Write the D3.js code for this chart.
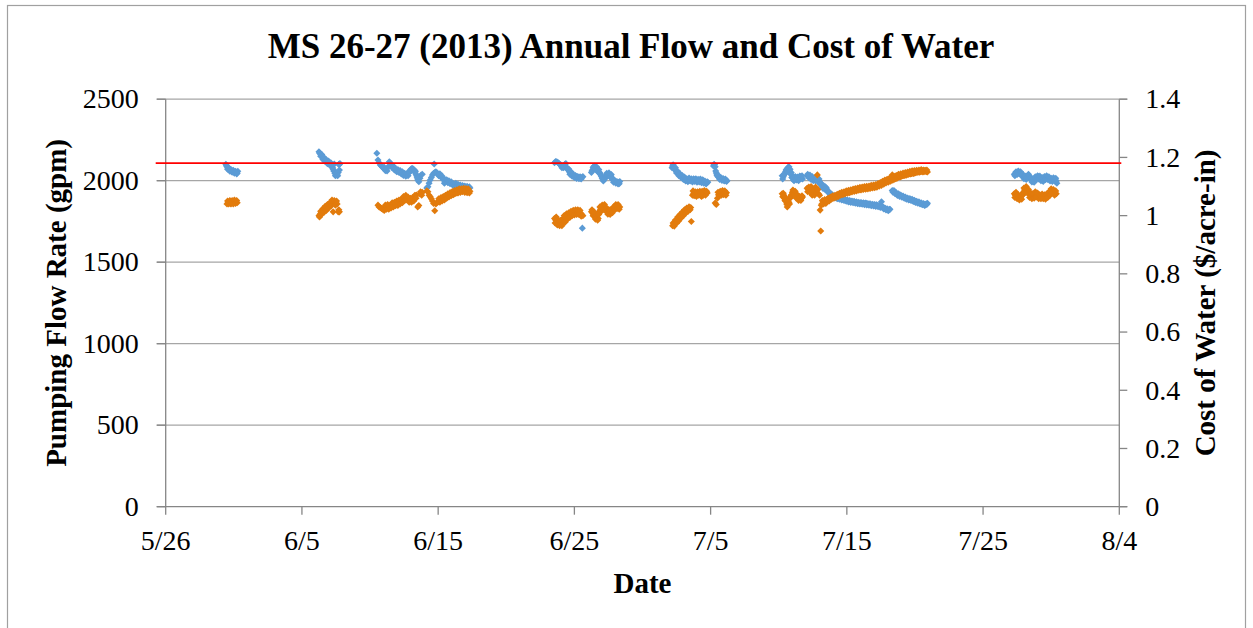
<!DOCTYPE html>
<html>
<head>
<meta charset="utf-8">
<script src="https://cdn.jsdelivr.net/npm/d3@7"></script>
<style>
  html, body { margin: 0; padding: 0; background: #fff; }
  svg { display: block; font-family: "Liberation Serif", "Times New Roman", serif; }
</style>
</head>
<body>
<svg id="chart" width="1253" height="628"></svg>
<script>
// Chart text
const chartTitle = 'MS 26-27 (2013) Annual Flow and Cost of Water';
const xTitle = 'Date';
const yLeftTitle = 'Pumping Flow Rate (gpm)';
const yRightTitle = 'Cost of Water ($/acre-in)';

// Axes
const dateStart = '5/26 00';
const dateEnd = '8/4 00';
const xTickLabels = ['5/26', '6/5', '6/15', '6/25', '7/5', '7/15', '7/25', '8/4'];
const flowTicks = [0, 500, 1000, 1500, 2000, 2500];
const costTicks = [0, 0.2, 0.4, 0.6, 0.8, 1, 1.2, 1.4];
const designFlow = 2108; // red reference line (gpm)

// Pumping flow rate (gpm)
const flowRate = [
  ['5/30 10',2101],['5/30 12',2085],['5/30 14',2075],['5/30 16',2066],['5/30 18',2062],['5/30 20',2058],
  ['5/30 22',2060],['5/31 00',2055],['5/31 02',2050],['5/31 04',2052],['5/31 06',2046],['5/31 07',2058],
  ['5/30 11',2092],['5/30 13',2070],['5/30 15',2080],['5/30 17',2058],['5/30 19',2068],['5/30 21',2052],
  ['5/30 23',2064],['5/31 01',2046],['5/31 03',2058],['5/31 05',2042],

  ['6/6 06',2178],['6/6 08',2165],['6/6 10',2155],['6/6 12',2145],['6/6 14',2138],['6/6 16',2130],
  ['6/6 18',2122],['6/6 20',2115],['6/6 22',2112],['6/7 00',2108],['6/7 02',2100],['6/7 04',2098],
  ['6/7 06',2080],['6/7 08',2060],['6/7 10',2045],['6/7 12',2035],['6/7 14',2040],['6/7 16',2050],
  ['6/7 18',2065],['6/7 19',2105],['6/7 17',2100],['6/7 09',2102],
  ['6/6 07',2170],['6/6 09',2150],['6/6 11',2160],['6/6 13',2130],['6/6 15',2142],['6/6 17',2118],
  ['6/6 19',2128],['6/6 21',2104],['6/6 23',2120],['6/7 01',2095],['6/7 03',2110],['6/7 05',2088],
  ['6/7 07',2070],['6/7 11',2030],['6/7 13',2048],['6/7 15',2030],['6/7 18',2100],

  ['6/10 12',2168],['6/10 14',2127],['6/10 16',2110],['6/10 18',2096],['6/10 20',2090],['6/10 22',2082],
  ['6/11 00',2075],['6/11 02',2070],['6/11 04',2066],['6/11 06',2060],['6/11 08',2085],['6/11 10',2116],
  ['6/11 12',2105],['6/11 14',2092],['6/11 16',2086],['6/11 18',2078],['6/11 20',2070],['6/11 22',2065],
  ['6/12 00',2060],['6/12 02',2058],['6/12 04',2055],['6/12 06',2050],['6/12 08',2046],['6/12 10',2042],
  ['6/12 12',2040],['6/12 14',2036],['6/12 16',2035],['6/12 18',2040],['6/12 20',2050],['6/12 22',2062],
  ['6/13 00',2070],['6/13 02',2076],['6/13 04',2072],['6/13 06',2065],['6/13 08',2058],['6/13 10',2030],
  ['6/13 12',2005],['6/13 14',1994],['6/13 16',2015],['6/13 18',2035],['6/13 20',2040],
  ['6/11 01',2082],['6/11 03',2062],['6/11 05',2072],['6/11 13',2098],['6/11 15',2080],['6/11 17',2090],
  ['6/11 19',2066],['6/11 21',2074],['6/11 23',2055],['6/12 01',2068],['6/12 03',2050],['6/12 05',2062],
  ['6/12 07',2042],['6/12 09',2055],['6/12 11',2032],['6/12 13',2046],['6/12 15',2028],['6/12 17',2042],
  ['6/12 19',2030],['6/12 21',2055],['6/13 01',2062],['6/13 03',2068],['6/13 05',2060],['6/13 07',2052],
  ['6/13 09',2040],['6/13 11',2018],

  ['6/14 04',1955],['6/14 06',1963],['6/14 08',1985],['6/14 10',2004],['6/14 12',2020],['6/14 14',2035],
  ['6/14 17',2102],['6/14 16',2045],['6/14 18',2050],['6/14 20',2055],['6/14 22',2048],['6/15 00',2040],
  ['6/15 02',2035],['6/15 04',2030],['6/15 06',2022],['6/15 08',2015],['6/15 10',2010],['6/15 11',1985],
  ['6/15 12',2005],['6/15 14',2000],['6/15 16',1998],['6/15 18',1994],['6/15 20',1990],['6/15 22',1988],
  ['6/16 00',1985],['6/16 02',1982],['6/16 03',1970],['6/16 04',1980],['6/16 06',1978],['6/16 08',1975],
  ['6/16 10',1972],['6/16 12',1970],['6/16 13',1958],['6/16 14',1968],['6/16 16',1966],['6/16 18',1965],
  ['6/16 20',1963],['6/16 22',1962],['6/17 00',1960],['6/17 02',1958],['6/17 04',1960],['6/17 06',1957],
  ['6/17 08',1955],
  ['6/15 01',2030],['6/15 03',2042],['6/15 05',2022],['6/15 07',2028],['6/15 09',2006],['6/15 13',1992],
  ['6/15 15',2006],['6/15 17',1988],['6/15 19',2000],['6/15 21',1982],['6/15 23',1994],['6/16 01',1976],
  ['6/16 05',1972],['6/16 07',1984],['6/16 09',1966],['6/16 11',1978],['6/16 15',1974],['6/16 17',1958],
  ['6/16 19',1970],['6/16 21',1955],['6/16 23',1968],['6/17 01',1952],['6/17 03',1965],['6/17 05',1950],
  ['6/17 07',1962],

  ['6/23 13',2110],['6/23 15',2118],['6/23 17',2116],['6/23 19',2112],['6/23 21',2105],['6/23 23',2098],
  ['6/24 01',2090],['6/24 03',2085],['6/24 05',2080],['6/24 07',2100],['6/24 09',2105],['6/24 11',2080],
  ['6/24 13',2065],['6/24 15',2055],['6/24 17',2048],['6/24 19',2040],['6/24 21',2035],['6/24 23',2030],
  ['6/25 01',2028],['6/25 03',2025],['6/25 05',2022],['6/25 07',2020],['6/25 09',2018],['6/25 11',2016],
  ['6/25 13',2020],['6/25 15',2025],['6/25 14',1709],
  ['6/24 00',2098],['6/24 02',2080],['6/24 04',2092],['6/24 12',2070],['6/24 14',2072],['6/24 16',2040],
  ['6/24 18',2055],['6/24 20',2028],['6/24 22',2040],['6/25 00',2020],['6/25 02',2032],['6/25 04',2014],
  ['6/25 06',2026],['6/25 08',2012],['6/25 10',2024],['6/25 12',2010],
  ['6/26 06',2050],['6/26 08',2065],['6/26 10',2075],['6/26 12',2082],['6/26 14',2078],['6/26 16',2070],
  ['6/26 18',2060],['6/26 20',2052],['6/26 22',2040],['6/27 00',2025],['6/27 02',2010],['6/27 04',2004],
  ['6/27 06',2015],['6/27 08',2025],['6/27 10',2035],['6/27 12',2040],['6/27 14',2035],['6/27 16',2030],
  ['6/27 18',2020],['6/27 20',2005],['6/27 22',1998],['6/28 00',1994],['6/28 02',1990],['6/28 04',1986],
  ['6/28 06',1990],['6/28 08',1995],
  ['6/26 07',2060],['6/26 09',2082],['6/26 11',2090],['6/26 13',2070],['6/26 15',2085],['6/26 17',2055],
  ['6/26 19',2068],['6/26 21',2045],['6/26 23',2030],['6/27 01',2015],['6/27 03',1998],['6/27 05',2010],
  ['6/27 07',2030],['6/27 09',2045],['6/27 11',2030],['6/27 13',2048],['6/27 15',2022],['6/27 17',2038],
  ['6/27 19',2010],['6/27 21',1990],['6/27 23',2002],['6/28 01',1984],['6/28 03',1995],['6/28 05',1980],
  ['6/28 07',1982],

  ['7/2 04',2080],['7/2 05',2090],['7/2 07',2085],['7/2 09',2070],['7/2 11',2060],['7/2 13',2050],
  ['7/2 15',2042],['7/2 17',2035],['7/2 19',2030],['7/2 21',2025],['7/2 23',2020],['7/3 01',2015],
  ['7/3 03',2010],['7/3 05',2005],['7/3 07',2000],['7/3 09',2004],['7/3 11',2010],['7/3 13',2006],
  ['7/3 15',2000],['7/3 17',1998],['7/3 19',2005],['7/3 21',2008],['7/3 23',2002],['7/4 01',1996],
  ['7/4 03',2000],['7/4 05',2004],['7/4 07',1998],['7/4 09',1994],['7/4 11',2000],['7/4 13',1992],
  ['7/4 15',1988],['7/4 17',1986],['7/4 19',1990],
  ['7/2 06',2098],['7/2 08',2072],['7/2 10',2080],['7/2 12',2048],['7/2 14',2058],['7/2 16',2030],
  ['7/2 18',2042],['7/2 20',2020],['7/2 22',2032],['7/3 00',2008],['7/3 02',2022],['7/3 04',1998],
  ['7/3 06',2012],['7/3 08',1994],['7/3 10',2016],['7/3 12',1998],['7/3 14',2012],['7/3 16',1992],
  ['7/3 18',2012],['7/3 20',1996],['7/3 22',2012],['7/4 00',1990],['7/4 02',2008],['7/4 04',1992],
  ['7/4 06',2010],['7/4 08',1988],['7/4 10',2006],['7/4 12',1984],['7/4 14',1998],['7/4 16',1980],
  ['7/4 18',1994],
  ['7/5 05',2090],['7/5 07',2098],['7/5 09',2060],['7/5 11',2035],['7/5 13',2025],['7/5 15',2018],
  ['7/5 17',2012],['7/5 19',2010],['7/5 21',2008],['7/5 23',2005],['7/6 01',2004],['7/6 03',2002],
  ['7/6 05',2000],
  ['7/5 06',2100],['7/5 08',2085],['7/5 10',2048],['7/5 12',2030],['7/5 14',2032],['7/5 16',2008],
  ['7/5 18',2020],['7/5 20',2002],['7/5 22',2014],['7/6 00',1998],['7/6 02',2010],['7/6 04',1995],

  ['7/10 06',2030],['7/10 08',2025],['7/10 10',2040],['7/10 12',2055],['7/10 14',2070],['7/10 16',2080],
  ['7/10 18',2086],['7/10 20',2070],['7/10 22',2050],['7/11 00',2030],['7/11 02',2004],['7/11 04',2010],
  ['7/11 06',2020],['7/11 08',2015],['7/11 10',2008],['7/11 12',2015],['7/11 14',2025],['7/11 16',2020],
  ['7/11 18',2010],['7/12 02',2030],['7/12 04',2030],['7/12 06',2025],['7/12 08',2020],['7/12 10',2015],
  ['7/12 12',2010],['7/12 14',2005],['7/12 16',2008],['7/12 18',2012],['7/12 20',2006],['7/12 22',2000],
  ['7/13 00',1995],['7/13 02',1985],['7/13 04',1970],['7/13 06',1953],['7/13 08',1960],['7/13 10',1963],
  ['7/10 07',2010],['7/10 09',2035],['7/10 11',2045],['7/10 13',2065],['7/10 15',2060],['7/10 17',2075],
  ['7/10 19',2060],['7/10 21',2040],['7/10 23',2020],['7/11 01',2015],['7/11 03',2000],['7/11 05',2026],
  ['7/11 07',2005],['7/11 09',2022],['7/11 11',2000],['7/11 13',2028],['7/11 15',2012],['7/11 17',2030],
  ['7/12 03',2040],['7/12 05',2018],['7/12 07',2035],['7/12 09',2008],['7/12 11',2025],['7/12 13',2000],
  ['7/12 15',2018],['7/12 17',1998],['7/12 19',2020],['7/12 21',1995],['7/12 23',2010],['7/13 01',1980],
  ['7/13 03',1975],['7/13 05',1960],['7/13 07',1970],['7/13 09',1948],['7/13 11',1950],
  ['7/13 12',1955],['7/13 14',1940],['7/13 16',1930],['7/13 18',1922],['7/13 20',1915],['7/13 22',1910],
  ['7/14 00',1905],['7/14 02',1900],['7/14 04',1898],['7/14 06',1895],['7/14 08',1893],['7/14 10',1892],
  ['7/14 12',1890],['7/14 14',1888],['7/14 16',1886],['7/14 18',1884],['7/14 20',1882],['7/14 22',1880],
  ['7/15 00',1878],['7/15 02',1876],['7/15 04',1875],['7/15 06',1873],['7/15 08',1872],['7/15 10',1871],
  ['7/15 12',1870],['7/15 14',1868],['7/15 16',1866],['7/15 18',1865],['7/15 20',1864],['7/15 22',1862],
  ['7/16 00',1863],['7/16 02',1861],['7/16 04',1860],['7/16 06',1862],['7/16 08',1858],['7/16 10',1861],
  ['7/16 12',1856],['7/16 14',1855],['7/16 16',1857],['7/16 18',1853],['7/16 20',1851],['7/16 22',1852],
  ['7/17 00',1850],['7/17 02',1848],['7/17 04',1852],['7/17 06',1846],['7/17 08',1845],['7/17 10',1851],
  ['7/17 12',1842],['7/17 13',1871],['7/17 14',1838],['7/17 16',1835],['7/17 18',1830],['7/17 20',1828],
  ['7/17 22',1825],['7/18 00',1822],['7/18 02',1820],['7/18 04',1825],
  ['7/13 15',1928],['7/13 17',1930],['7/13 19',1912],['7/13 21',1918],['7/13 23',1902],['7/14 01',1908],
  ['7/14 03',1894],['7/14 05',1902],['7/14 07',1889],['7/14 09',1898],['7/14 11',1886],['7/14 13',1893],
  ['7/14 15',1882],['7/14 17',1890],['7/14 19',1878],['7/14 21',1885],['7/14 23',1874],['7/15 01',1882],
  ['7/15 03',1870],['7/15 05',1879],['7/15 07',1867],['7/15 09',1876],['7/15 11',1865],['7/15 13',1873],
  ['7/15 15',1862],['7/15 17',1870],['7/15 19',1859],['7/15 21',1867],['7/15 23',1857],['7/16 01',1866],
  ['7/16 03',1855],['7/16 05',1864],['7/16 07',1853],['7/16 09',1863],['7/16 11',1851],['7/16 13',1860],
  ['7/16 15',1849],['7/16 17',1858],['7/16 19',1846],['7/16 21',1856],['7/16 23',1845],['7/17 01',1854],
  ['7/17 03',1842],['7/17 05',1850],['7/17 07',1840],['7/17 09',1848],['7/17 11',1836],['7/17 15',1842],
  ['7/17 17',1826],['7/17 19',1833],['7/17 21',1820],['7/17 23',1828],['7/18 01',1816],['7/18 03',1824],
  ['7/18 08',1940],['7/18 10',1933],['7/18 12',1928],['7/18 14',1922],['7/18 16',1918],['7/18 18',1915],
  ['7/18 20',1912],['7/18 22',1910],['7/19 00',1905],['7/19 02',1902],['7/19 04',1900],['7/19 06',1896],
  ['7/19 08',1893],['7/19 10',1890],['7/19 12',1888],['7/19 14',1885],['7/19 16',1884],['7/19 18',1882],
  ['7/19 20',1880],['7/19 22',1876],['7/20 00',1873],['7/20 02',1870],['7/20 04',1868],['7/20 06',1865],
  ['7/20 08',1863],['7/20 10',1860],['7/20 12',1858],['7/20 14',1856],['7/20 16',1855],['7/20 18',1851],
  ['7/20 20',1858],['7/20 22',1862],
  ['7/18 09',1930],['7/18 11',1940],['7/18 13',1920],['7/18 15',1926],['7/18 17',1910],['7/18 19',1920],
  ['7/18 21',1903],['7/18 23',1912],['7/19 01',1898],['7/19 03',1906],['7/19 05',1893],['7/19 07',1900],
  ['7/19 09',1886],['7/19 11',1894],['7/19 13',1882],['7/19 15',1890],['7/19 17',1878],['7/19 19',1886],
  ['7/19 21',1872],['7/19 23',1880],['7/20 01',1866],['7/20 03',1874],['7/20 05',1862],['7/20 07',1870],
  ['7/20 09',1857],['7/20 11',1865],['7/20 13',1852],['7/20 15',1860],['7/20 17',1848],['7/20 19',1856],
  ['7/20 21',1854],

  ['7/27 07',2040],['7/27 09',2045],['7/27 11',2048],['7/27 13',2052],['7/27 15',2055],['7/27 17',2050],
  ['7/27 19',2040],['7/27 21',2030],['7/27 23',2025],['7/28 01',2020],['7/28 03',2015],['7/28 05',2025],
  ['7/28 07',2030],['7/28 09',2020],['7/28 11',2010],['7/28 13',2004],['7/28 15',1998],['7/28 17',1994],
  ['7/28 19',2005],['7/28 21',2015],['7/28 23',2020],['7/29 01',2025],['7/29 03',2020],['7/29 05',2015],
  ['7/29 07',2010],['7/29 09',2000],['7/29 11',2008],['7/29 13',2018],['7/29 15',2022],['7/29 17',2020],
  ['7/29 19',2015],['7/29 21',2010],['7/29 23',2005],['7/30 01',2004],['7/30 03',2008],['7/30 05',2012],
  ['7/30 07',2006],['7/30 09',1998],['7/30 10',1985],
  ['7/27 08',2030],['7/27 10',2055],['7/27 12',2038],['7/27 14',2060],['7/27 16',2042],['7/27 18',2055],
  ['7/27 20',2030],['7/27 22',2040],['7/28 00',2012],['7/28 02',2028],['7/28 04',2008],['7/28 06',2018],
  ['7/28 08',2040],['7/28 10',2028],['7/28 12',2018],['7/28 14',1992],['7/28 16',2010],['7/28 18',1990],
  ['7/28 20',2024],['7/28 22',2008],['7/29 00',2030],['7/29 02',2010],['7/29 04',2028],['7/29 06',2000],
  ['7/29 08',2020],['7/29 10',1996],['7/29 12',2025],['7/29 14',2006],['7/29 16',2030],['7/29 18',2008],
  ['7/29 20',2024],['7/29 22',1998],['7/30 00',2015],['7/30 02',1996],['7/30 04',2018],['7/30 06',1998],
  ['7/30 08',2015]
];

// Cost of water ($/acre-in)
const waterCost = [
  ['5/30 12',1.040],['5/30 14',1.044],['5/30 16',1.046],['5/30 18',1.043],['5/30 20',1.045],['5/30 22',1.048],
  ['5/31 00',1.046],['5/31 02',1.050],['5/31 04',1.047],['5/31 06',1.044],
  ['5/30 13',1.050],['5/30 15',1.040],['5/30 17',1.052],['5/30 19',1.040],['5/30 21',1.052],['5/30 23',1.040],
  ['5/31 01',1.054],['5/31 03',1.042],['5/31 05',1.052],

  ['6/6 06',1.000],['6/6 08',1.005],['6/6 10',1.012],['6/6 12',1.015],['6/6 14',1.020],['6/6 16',1.025],
  ['6/6 18',1.022],['6/6 20',1.030],['6/6 22',1.033],['6/7 00',1.036],['6/7 02',1.040],['6/7 04',1.048],
  ['6/7 06',1.050],['6/7 07',1.013],['6/7 08',1.046],['6/7 10',1.042],['6/7 12',1.045],['6/7 14',1.040],
  ['6/7 16',1.013],['6/7 18',1.013],
  ['6/6 07',0.995],['6/6 09',1.015],['6/6 11',1.005],['6/6 13',1.024],['6/6 15',1.012],['6/6 17',1.032],
  ['6/6 19',1.018],['6/6 21',1.038],['6/6 23',1.026],['6/7 01',1.044],['6/7 03',1.032],['6/7 05',1.054],
  ['6/7 09',1.052],['6/7 11',1.036],['6/7 13',1.050],['6/7 17',1.020],

  ['6/10 14',1.036],['6/10 16',1.030],['6/10 18',1.028],['6/10 20',1.025],['6/10 22',1.022],['6/11 00',1.025],
  ['6/11 02',1.028],['6/11 04',1.032],['6/11 06',1.030],['6/11 08',1.027],['6/11 10',1.030],['6/11 12',1.033],
  ['6/11 14',1.035],['6/11 16',1.036],['6/11 18',1.040],['6/11 20',1.038],['6/11 22',1.042],['6/12 00',1.040],
  ['6/12 02',1.045],['6/12 04',1.048],['6/12 06',1.046],['6/12 08',1.050],['6/12 10',1.055],['6/12 12',1.060],
  ['6/12 14',1.065],['6/12 16',1.062],['6/12 18',1.058],['6/12 20',1.054],['6/12 22',1.050],['6/13 00',1.052],
  ['6/13 02',1.054],['6/13 04',1.058],['6/13 06',1.062],['6/13 08',1.068],['6/13 10',1.071],['6/13 12',1.030],
  ['6/13 14',1.035],['6/13 16',1.074],['6/13 18',1.077],['6/13 20',1.080],
  ['6/11 01',1.018],['6/11 03',1.036],['6/11 05',1.022],['6/11 07',1.038],['6/11 09',1.022],['6/11 13',1.026],
  ['6/11 15',1.044],['6/11 17',1.030],['6/11 19',1.046],['6/11 21',1.034],['6/11 23',1.050],['6/12 01',1.035],
  ['6/12 03',1.054],['6/12 05',1.040],['6/12 07',1.056],['6/12 09',1.044],['6/12 11',1.066],['6/12 13',1.052],
  ['6/12 15',1.070],['6/12 17',1.055],['6/12 19',1.064],['6/12 21',1.046],['6/12 23',1.060],['6/13 01',1.046],
  ['6/13 03',1.062],['6/13 05',1.050],['6/13 07',1.070],['6/13 09',1.060],['6/13 17',1.082],['6/13 19',1.070],

  ['6/14 04',1.085],['6/14 06',1.082],['6/14 08',1.070],['6/14 10',1.065],['6/14 12',1.058],['6/14 14',1.050],
  ['6/14 16',1.042],['6/14 18',1.017],['6/14 20',1.040],['6/14 22',1.045],['6/15 00',1.048],['6/15 02',1.050],
  ['6/15 04',1.054],['6/15 06',1.056],['6/15 08',1.060],['6/15 10',1.058],['6/15 12',1.062],['6/15 14',1.065],
  ['6/15 16',1.068],['6/15 18',1.066],['6/15 20',1.071],['6/15 22',1.074],['6/16 00',1.072],['6/16 02',1.076],
  ['6/16 04',1.078],['6/16 06',1.080],['6/16 08',1.082],['6/16 10',1.079],['6/16 12',1.084],['6/16 14',1.086],
  ['6/16 16',1.083],['6/16 18',1.088],['6/16 20',1.088],['6/16 22',1.085],['6/17 00',1.086],['6/17 02',1.083],
  ['6/17 04',1.085],['6/17 06',1.082],['6/17 08',1.084],
  ['6/15 01',1.058],['6/15 03',1.046],['6/15 05',1.062],['6/15 07',1.050],['6/15 09',1.066],['6/15 11',1.054],
  ['6/15 13',1.070],['6/15 15',1.060],['6/15 17',1.075],['6/15 19',1.064],['6/15 21',1.079],['6/15 23',1.068],
  ['6/16 01',1.083],['6/16 03',1.072],['6/16 05',1.086],['6/16 07',1.076],['6/16 09',1.089],['6/16 11',1.078],
  ['6/16 13',1.092],['6/16 15',1.080],['6/16 17',1.092],['6/16 19',1.082],['6/16 21',1.094],['6/16 23',1.080],
  ['6/17 01',1.093],['6/17 03',1.079],['6/17 05',1.092],['6/17 07',1.078],

  ['6/23 13',0.990],['6/23 15',0.985],['6/23 17',0.982],['6/23 19',0.978],['6/23 21',0.975],['6/23 23',0.972],
  ['6/24 01',0.974],['6/24 03',0.985],['6/24 05',0.992],['6/24 07',0.988],['6/24 09',0.995],['6/24 11',0.998],
  ['6/24 13',0.996],['6/24 15',1.002],['6/24 17',1.005],['6/24 19',1.008],['6/24 21',1.010],['6/24 23',1.012],
  ['6/25 01',1.010],['6/25 03',1.014],['6/25 05',1.012],['6/25 07',1.015],['6/25 09',1.012],['6/25 11',1.008],
  ['6/25 13',1.004],['6/25 15',1.000],
  ['6/23 14',0.975],['6/23 16',0.995],['6/23 18',0.968],['6/23 20',0.985],['6/23 22',0.965],['6/24 00',0.984],
  ['6/24 02',0.965],['6/24 04',0.975],['6/24 06',1.000],['6/24 08',0.978],['6/24 10',1.006],['6/24 12',0.988],
  ['6/24 14',1.010],['6/24 16',0.994],['6/24 18',1.015],['6/24 20',1.000],['6/24 22',1.018],['6/25 00',1.002],
  ['6/25 02',1.020],['6/25 04',1.004],['6/25 06',1.020],['6/25 08',1.004],['6/25 10',1.018],['6/25 12',0.998],
  ['6/26 06',1.013],['6/26 08',1.010],['6/26 10',1.005],['6/26 12',0.998],['6/26 14',0.995],['6/26 16',0.992],
  ['6/26 18',0.990],['6/26 20',1.015],['6/26 22',1.022],['6/27 00',1.026],['6/27 02',1.030],['6/27 04',1.032],
  ['6/27 06',1.025],['6/27 08',1.020],['6/27 10',1.015],['6/27 12',1.012],['6/27 14',1.010],['6/27 16',1.013],
  ['6/27 18',1.016],['6/27 20',1.022],['6/27 22',1.026],['6/28 00',1.030],['6/28 02',1.032],['6/28 04',1.030],
  ['6/28 06',1.028],['6/28 08',1.030],
  ['6/26 07',1.020],['6/26 09',1.000],['6/26 11',1.012],['6/26 13',0.988],['6/26 15',1.002],['6/26 17',0.984],
  ['6/26 19',1.004],['6/26 21',1.030],['6/26 23',1.014],['6/27 01',1.036],['6/27 03',1.022],['6/27 05',1.038],
  ['6/27 07',1.016],['6/27 09',1.026],['6/27 11',1.005],['6/27 13',1.020],['6/27 15',1.004],['6/27 17',1.022],
  ['6/27 19',1.010],['6/27 21',1.030],['6/27 23',1.020],['6/28 01',1.038],['6/28 03',1.024],['6/28 05',1.038],
  ['6/28 07',1.022],

  ['7/2 05',0.965],['7/2 07',0.972],['7/2 09',0.975],['7/2 11',0.980],['7/2 13',0.985],['7/2 15',0.990],
  ['7/2 17',0.995],['7/2 19',1.000],['7/2 21',1.004],['7/2 23',1.008],['7/3 01',1.010],['7/3 03',1.014],
  ['7/3 05',1.018],['7/3 07',1.020],['7/3 09',1.024],['7/3 11',1.026],['7/3 13',1.028],['7/3 14',0.980],
  ['7/3 16',1.070],['7/3 18',1.077],['7/3 20',1.075],['7/3 22',1.072],['7/4 00',1.074],['7/4 02',1.076],
  ['7/4 04',1.078],['7/4 06',1.070],['7/4 08',1.066],['7/4 10',1.075],['7/4 12',1.078],['7/4 14',1.080],
  ['7/4 16',1.076],['7/4 18',1.078],
  ['7/2 06',0.975],['7/2 08',0.964],['7/2 10',0.985],['7/2 12',0.974],['7/2 14',0.995],['7/2 16',0.982],
  ['7/2 18',1.004],['7/2 20',0.992],['7/2 22',1.012],['7/3 00',1.000],['7/3 02',1.020],['7/3 04',1.008],
  ['7/3 06',1.026],['7/3 08',1.014],['7/3 10',1.030],['7/3 12',1.020],['7/3 17',1.085],['7/3 19',1.068],
  ['7/3 21',1.082],['7/3 23',1.066],['7/4 01',1.082],['7/4 03',1.070],['7/4 05',1.084],['7/4 09',1.084],
  ['7/4 11',1.070],['7/4 13',1.086],['7/4 15',1.070],['7/4 17',1.084],
  ['7/5 08',1.043],['7/5 10',1.038],['7/5 12',1.060],['7/5 14',1.072],['7/5 16',1.076],['7/5 18',1.078],
  ['7/5 20',1.077],['7/5 22',1.080],['7/6 00',1.078],['7/6 02',1.076],['7/6 04',1.079],
  ['7/5 13',1.080],['7/5 15',1.068],['7/5 17',1.084],['7/5 19',1.070],['7/5 21',1.086],['7/5 23',1.072],
  ['7/6 01',1.085],['7/6 03',1.070],

  ['7/10 06',1.075],['7/10 08',1.077],['7/10 10',1.060],['7/10 12',1.050],['7/10 14',1.040],['7/10 16',1.036],
  ['7/10 18',1.045],['7/10 20',1.060],['7/10 22',1.070],['7/11 00',1.080],['7/11 02',1.082],['7/11 04',1.078],
  ['7/11 06',1.070],['7/11 08',1.065],['7/11 10',1.062],['7/11 12',1.058],['7/11 14',1.060],['7/11 16',1.059],
  ['7/11 18',1.064],['7/12 02',1.094],['7/12 04',1.090],['7/12 06',1.085],['7/12 08',1.095],['7/12 10',1.088],
  ['7/12 12',1.080],['7/12 14',1.077],['7/12 16',1.085],['7/12 18',1.092],['7/12 20',1.140],['7/12 22',1.075],
  ['7/13 00',1.070],['7/13 01',1.019],['7/13 02',0.947],['7/13 04',1.040],['7/13 06',1.048],['7/13 08',1.045],
  ['7/10 07',1.065],['7/10 09',1.070],['7/10 11',1.052],['7/10 13',1.060],['7/10 15',1.030],['7/10 17',1.050],
  ['7/10 19',1.040],['7/10 21',1.066],['7/10 23',1.072],['7/11 01',1.088],['7/11 03',1.070],['7/11 05',1.084],
  ['7/11 07',1.060],['7/11 09',1.072],['7/11 11',1.052],['7/11 13',1.066],['7/11 15',1.052],['7/11 17',1.068],
  ['7/12 03',1.082],['7/12 05',1.098],['7/12 07',1.080],['7/12 09',1.100],['7/12 11',1.070],['7/12 13',1.088],
  ['7/12 15',1.070],['7/12 17',1.098],['7/12 19',1.080],['7/12 21',1.090],['7/13 03',1.036],['7/13 05',1.052],
  ['7/13 07',1.040],['7/13 09',1.055],['7/13 11',1.042],['7/13 13',1.056],
  ['7/13 10',1.050],['7/13 12',1.048],['7/13 14',1.052],['7/13 16',1.055],['7/13 18',1.058],['7/13 20',1.060],
  ['7/13 22',1.062],['7/14 00',1.064],['7/14 02',1.065],['7/14 04',1.067],['7/14 06',1.068],['7/14 08',1.070],
  ['7/14 10',1.072],['7/14 12',1.075],['7/14 14',1.074],['7/14 16',1.076],['7/14 18',1.078],['7/14 20',1.077],
  ['7/14 22',1.080],['7/15 00',1.081],['7/15 02',1.080],['7/15 04',1.082],['7/15 06',1.084],['7/15 08',1.085],
  ['7/15 10',1.086],['7/15 12',1.088],['7/15 14',1.087],['7/15 16',1.089],['7/15 18',1.090],['7/15 20',1.091],
  ['7/15 22',1.092],['7/16 00',1.090],['7/16 02',1.093],['7/16 04',1.092],['7/16 06',1.094],['7/16 08',1.095],
  ['7/16 10',1.094],['7/16 12',1.096],['7/16 14',1.097],['7/16 16',1.095],['7/16 18',1.098],['7/16 20',1.099],
  ['7/16 22',1.098],['7/17 00',1.100],['7/17 02',1.101],['7/17 04',1.099],['7/17 06',1.102],['7/17 08',1.104],
  ['7/17 10',1.106],['7/17 12',1.108],['7/17 14',1.110],['7/17 16',1.112],['7/17 18',1.115],['7/17 20',1.117],
  ['7/17 22',1.118],['7/18 00',1.120],['7/18 02',1.118],['7/18 04',1.122],['7/18 06',1.125],['7/18 08',1.140],
  ['7/18 10',1.128],['7/18 12',1.125],['7/18 14',1.130],['7/18 16',1.128],['7/18 18',1.132],['7/18 20',1.134],
  ['7/18 22',1.133],['7/19 00',1.135],['7/19 02',1.137],['7/19 04',1.138],['7/19 06',1.140],['7/19 08',1.139],
  ['7/19 10',1.141],['7/19 12',1.142],['7/19 14',1.144],['7/19 16',1.143],['7/19 18',1.145],['7/19 20',1.146],
  ['7/19 22',1.145],['7/20 00',1.147],['7/20 02',1.148],['7/20 04',1.149],['7/20 06',1.150],['7/20 08',1.149],
  ['7/20 10',1.151],['7/20 12',1.152],['7/20 14',1.150],['7/20 16',1.151],['7/20 18',1.153],['7/20 20',1.151],
  ['7/20 22',1.150],
  ['7/13 15',1.060],['7/13 17',1.050],['7/13 19',1.064],['7/13 21',1.056],['7/13 23',1.068],['7/14 01',1.060],
  ['7/14 03',1.070],['7/14 05',1.062],['7/14 07',1.073],['7/14 09',1.066],['7/14 11',1.077],['7/14 13',1.070],
  ['7/14 15',1.080],['7/14 17',1.072],['7/14 19',1.082],['7/14 21',1.074],['7/14 23',1.085],['7/15 01',1.077],
  ['7/15 03',1.087],['7/15 05',1.079],['7/15 07',1.089],['7/15 09',1.081],['7/15 11',1.091],['7/15 13',1.083],
  ['7/15 15',1.093],['7/15 17',1.085],['7/15 19',1.095],['7/15 21',1.087],['7/15 23',1.097],['7/16 01',1.088],
  ['7/16 03',1.098],['7/16 05',1.090],['7/16 07',1.100],['7/16 09',1.091],['7/16 11',1.101],['7/16 13',1.092],
  ['7/16 15',1.102],['7/16 17',1.093],['7/16 19',1.104],['7/16 21',1.095],['7/16 23',1.105],['7/17 01',1.096],
  ['7/17 03',1.107],['7/17 05',1.098],['7/17 07',1.110],['7/17 09',1.101],['7/17 11',1.114],['7/17 13',1.104],
  ['7/17 15',1.118],['7/17 17',1.108],['7/17 19',1.122],['7/17 21',1.112],['7/17 23',1.125],['7/18 01',1.115],
  ['7/18 03',1.128],['7/18 05',1.118],['7/18 07',1.132],['7/18 09',1.122],['7/18 11',1.136],['7/18 13',1.127],
  ['7/18 15',1.138],['7/18 17',1.130],['7/18 19',1.142],['7/18 21',1.134],['7/18 23',1.144],['7/19 01',1.136],
  ['7/19 03',1.146],['7/19 05',1.138],['7/19 07',1.148],['7/19 09',1.140],['7/19 11',1.150],['7/19 13',1.142],
  ['7/19 15',1.152],['7/19 17',1.144],['7/19 19',1.154],['7/19 21',1.146],['7/19 23',1.155],['7/20 01',1.148],
  ['7/20 03',1.156],['7/20 05',1.150],['7/20 07',1.157],['7/20 09',1.152],['7/20 11',1.158],['7/20 13',1.154],
  ['7/20 15',1.157],['7/20 17',1.155],['7/20 19',1.156],['7/20 21',1.157],

  ['7/27 07',1.075],['7/27 09',1.070],['7/27 11',1.068],['7/27 13',1.065],['7/27 15',1.062],['7/27 17',1.060],
  ['7/27 19',1.065],['7/27 21',1.070],['7/27 23',1.080],['7/28 01',1.088],['7/28 03',1.094],['7/28 05',1.090],
  ['7/28 07',1.085],['7/28 09',1.075],['7/28 11',1.070],['7/28 13',1.068],['7/28 15',1.066],['7/28 17',1.070],
  ['7/28 19',1.074],['7/28 21',1.078],['7/28 23',1.072],['7/29 01',1.068],['7/29 03',1.066],['7/29 05',1.064],
  ['7/29 07',1.066],['7/29 09',1.068],['7/29 11',1.065],['7/29 13',1.064],['7/29 15',1.066],['7/29 17',1.070],
  ['7/29 19',1.074],['7/29 21',1.080],['7/29 23',1.085],['7/30 01',1.088],['7/30 03',1.086],['7/30 05',1.082],
  ['7/30 07',1.078],['7/30 09',1.075],
  ['7/27 08',1.062],['7/27 10',1.080],['7/27 12',1.058],['7/27 14',1.072],['7/27 16',1.054],['7/27 18',1.070],
  ['7/27 20',1.056],['7/27 22',1.072],['7/28 00',1.095],['7/28 02',1.080],['7/28 04',1.100],['7/28 06',1.078],
  ['7/28 08',1.090],['7/28 10',1.062],['7/28 12',1.078],['7/28 14',1.058],['7/28 16',1.076],['7/28 18',1.060],
  ['7/28 20',1.082],['7/28 22',1.064],['7/29 00',1.078],['7/29 02',1.058],['7/29 04',1.072],['7/29 06',1.058],
  ['7/29 08',1.074],['7/29 10',1.058],['7/29 12',1.072],['7/29 14',1.056],['7/29 16',1.074],['7/29 18',1.062],
  ['7/29 20',1.082],['7/29 22',1.070],['7/30 00',1.092],['7/30 02',1.078],['7/30 04',1.090],['7/30 06',1.070],
  ['7/30 08',1.085]
];

const parseDate = d3.timeParse('%Y/%m/%d %H');
const toDate = s => parseDate('2013/' + s);

const svg = d3.select('#chart');
const W = 1253;

const plot = { left: 165.7, right: 1119.3, top: 99.2, bottom: 506.7 };
const axisColor = '#868686';
const gridColor = '#a6a6a6';
const blue = '#5b9bd5';
const orange = '#e27b0c';

const x = d3.scaleTime()
  .domain([toDate(dateStart), toDate(dateEnd)])
  .range([plot.left, plot.right]);
const yFlow = d3.scaleLinear().domain([0, 2500]).range([plot.bottom, plot.top]);
const yCost = d3.scaleLinear().domain([0, 1.4]).range([plot.bottom, plot.top]);

// Chart border
svg.append('rect')
  .attr('x', 7.5).attr('y', 5.5)
  .attr('width', W - 15).attr('height', 640)
  .attr('fill', 'none')
  .attr('stroke', '#a0a0a0')
  .attr('stroke-width', 1.2);

// Gridlines
svg.append('g')
  .selectAll('line')
  .data(flowTicks.filter(d => d > 0))
  .enter()
  .append('line')
  .attr('x1', plot.left - 9)
  .attr('x2', d => d === 2500 ? plot.right + 8 : plot.right)
  .attr('y1', d => yFlow(d))
  .attr('y2', d => yFlow(d))
  .attr('stroke', gridColor)
  .attr('stroke-width', 1.3);

// Axis lines
const axes = svg.append('g').attr('stroke', axisColor).attr('stroke-width', 1.3);
axes.append('line')
  .attr('x1', plot.left).attr('x2', plot.left)
  .attr('y1', plot.top).attr('y2', plot.bottom);
axes.append('line')
  .attr('x1', plot.right).attr('x2', plot.right)
  .attr('y1', plot.top).attr('y2', plot.bottom);
axes.append('line')
  .attr('x1', plot.left - 9).attr('x2', plot.right + 8)
  .attr('y1', plot.bottom).attr('y2', plot.bottom);

// Tick marks
axes.selectAll('.xtick')
  .data(xTickLabels)
  .enter()
  .append('line')
  .attr('x1', d => x(toDate(d + ' 00')))
  .attr('x2', d => x(toDate(d + ' 00')))
  .attr('y1', plot.bottom)
  .attr('y2', plot.bottom + 8);
axes.selectAll('.ltick')
  .data(flowTicks)
  .enter()
  .append('line')
  .attr('x1', plot.left - 9).attr('x2', plot.left)
  .attr('y1', d => yFlow(d)).attr('y2', d => yFlow(d));
axes.selectAll('.rtick')
  .data(costTicks)
  .enter()
  .append('line')
  .attr('x1', plot.right).attr('x2', plot.right + 8)
  .attr('y1', d => yCost(d)).attr('y2', d => yCost(d));

// Tick labels
const labels = svg.append('g').style('font-size', '28px').attr('fill', '#000');
labels.selectAll('.xl')
  .data(xTickLabels)
  .enter()
  .append('text')
  .attr('x', d => x(toDate(d + ' 00')))
  .attr('y', plot.bottom + 43)
  .attr('text-anchor', 'middle')
  .text(d => d);
labels.selectAll('.ll')
  .data(flowTicks)
  .enter()
  .append('text')
  .attr('x', plot.left - 27)
  .attr('y', d => yFlow(d))
  .attr('dy', '0.33em')
  .attr('text-anchor', 'end')
  .text(d => d);
labels.selectAll('.rl')
  .data(costTicks)
  .enter()
  .append('text')
  .attr('x', plot.right + 26)
  .attr('y', d => yCost(d))
  .attr('dy', '0.33em')
  .attr('text-anchor', 'start')
  .text(d => d);

// Markers (diamonds)
const diamond = d3.symbol().type(d3.symbolSquare).size(25);

svg.append('g')
  .selectAll('path')
  .data(flowRate)
  .enter()
  .append('path')
  .attr('d', diamond)
  .attr('transform', d => `translate(${x(toDate(d[0]))},${yFlow(d[1])}) rotate(45)`)
  .attr('fill', blue);

svg.append('g')
  .selectAll('path')
  .data(waterCost)
  .enter()
  .append('path')
  .attr('d', diamond)
  .attr('transform', d => `translate(${x(toDate(d[0]))},${yCost(d[1])}) rotate(45)`)
  .attr('fill', orange);

// Reference flow line
svg.append('line')
  .attr('x1', plot.left - 10)
  .attr('x2', plot.right + 2)
  .attr('y1', yFlow(designFlow))
  .attr('y2', yFlow(designFlow))
  .attr('stroke', '#ff0000')
  .attr('stroke-width', 1.8);

// Titles
svg.append('text')
  .attr('x', 631)
  .attr('y', 58)
  .attr('text-anchor', 'middle')
  .style('font-size', '35px')
  .style('font-weight', 'bold')
  .text(chartTitle);

svg.append('text')
  .attr('x', (plot.left + plot.right) / 2)
  .attr('y', 593)
  .attr('text-anchor', 'middle')
  .style('font-size', '29px')
  .style('font-weight', 'bold')
  .text(xTitle);

svg.append('text')
  .attr('transform', `translate(66,${(plot.top + plot.bottom) / 2}) rotate(-90)`)
  .attr('text-anchor', 'middle')
  .style('font-size', '29px')
  .style('font-weight', 'bold')
  .text(yLeftTitle);

svg.append('text')
  .attr('transform', `translate(1215,${(plot.top + plot.bottom) / 2}) rotate(-90)`)
  .attr('text-anchor', 'middle')
  .style('font-size', '29px')
  .style('font-weight', 'bold')
  .text(yRightTitle);
</script>
</body>
</html>
